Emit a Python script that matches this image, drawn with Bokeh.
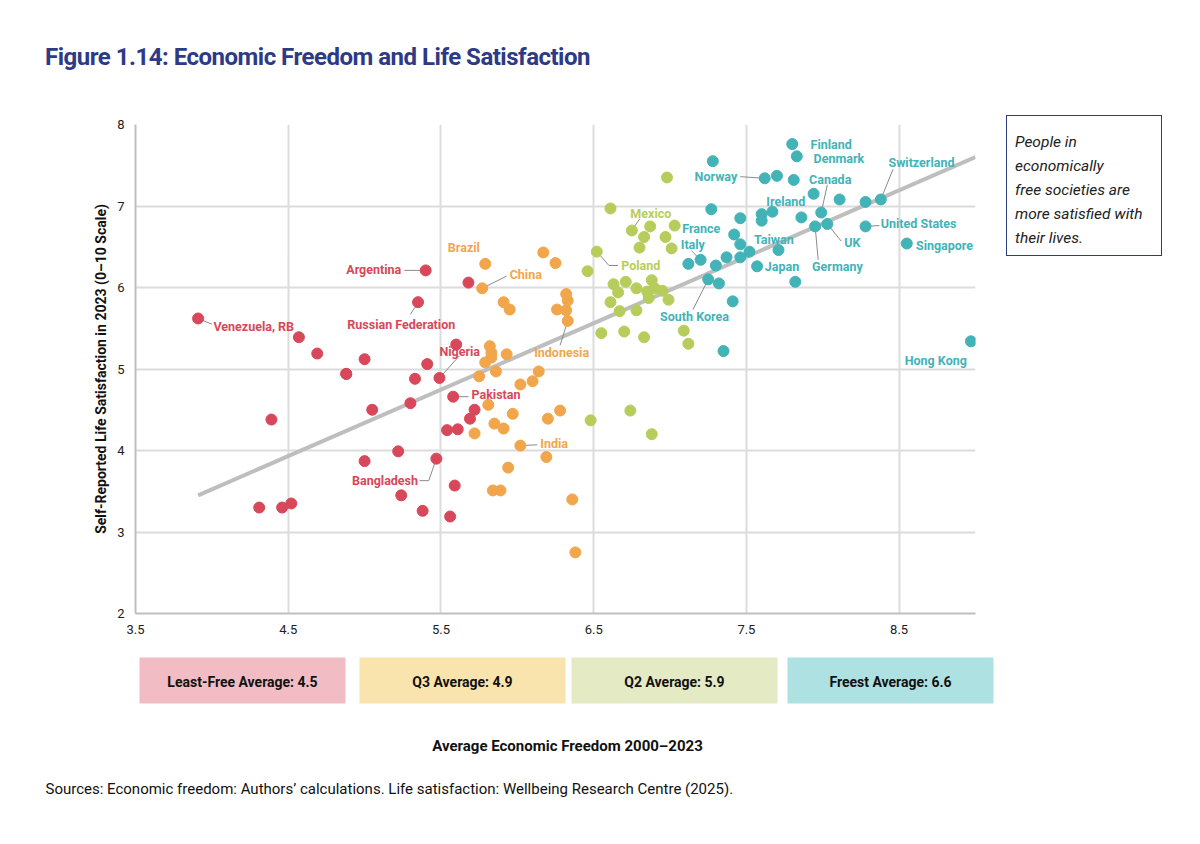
from bokeh.plotting import figure
from bokeh.models import Range1d, Div, ColumnDataSource, FixedTicker
from bokeh.layouts import column, row
from bokeh.embed import file_html
from bokeh.resources import INLINE
from bokeh.core.properties import value

RED, ORANGE, GREEN, TEAL = "#D8475A", "#F2A64B", "#B7CD5B", "#42B3B7"

red_x = [3.91,4.57,4.69,4.88,5.00,4.88,5.41,5.33,5.49,5.60,5.58,5.30,5.05,4.39,5.54,5.61,5.22,5.00,5.47,5.59,5.24,5.38,5.56,4.31,4.46,4.52,5.40,5.35,5.68,5.72,5.69]
red_y = [5.62,5.39,5.19,4.94,5.12,4.94,5.06,4.88,4.89,5.30,4.66,4.58,4.50,4.38,4.25,4.26,3.99,3.87,3.90,3.57,3.45,3.26,3.19,3.30,3.30,3.35,6.21,5.82,6.06,4.50,4.39]
orange_x = [5.79,5.77,6.17,6.25,5.91,5.95,6.32,6.33,6.26,6.32,6.33,5.82,5.83,5.83,5.93,5.79,5.75,5.86,6.14,6.10,6.02,5.81,5.97,6.20,6.28,5.72,5.85,5.91,6.02,6.19,5.94,5.84,5.89,6.36,6.38]
orange_y = [6.29,5.99,6.43,6.30,5.82,5.73,5.92,5.84,5.73,5.72,5.59,5.28,5.20,5.14,5.18,5.08,4.91,4.97,4.97,4.85,4.81,4.56,4.45,4.39,4.49,4.21,4.33,4.27,4.06,3.92,3.79,3.51,3.51,3.40,2.75]
green_x = [6.52,6.46,6.63,6.66,6.71,6.78,6.88,6.85,6.90,6.95,6.86,6.99,6.61,6.67,6.78,6.55,6.70,6.83,7.09,7.12,6.48,6.74,6.88,6.98,6.61,6.75,6.87,7.03,6.83,6.97,6.80,7.01]
green_y = [6.44,6.20,6.04,5.94,6.07,5.99,6.09,5.95,5.99,5.96,5.87,5.85,5.82,5.71,5.72,5.44,5.46,5.39,5.47,5.31,4.37,4.49,4.20,7.35,6.97,6.70,6.75,6.76,6.62,6.62,6.49,6.48]
teal_x = [7.28,7.80,7.83,7.62,7.70,7.81,7.94,8.11,8.28,8.38,7.99,7.27,7.67,7.60,7.60,7.46,7.86,7.95,8.03,8.28,8.55,7.42,7.46,7.52,7.46,7.37,7.71,7.30,7.20,7.12,7.57,7.25,7.32,7.82,7.41,7.35,8.97]
teal_y = [7.55,7.76,7.61,7.34,7.37,7.32,7.15,7.08,7.05,7.08,6.92,6.96,6.93,6.90,6.82,6.85,6.86,6.75,6.78,6.75,6.54,6.65,6.53,6.44,6.37,6.37,6.46,6.27,6.34,6.29,6.26,6.10,6.05,6.07,5.83,5.22,5.34]

trend_x = [3.91, 9.00]
trend_y = [3.45, 7.60]

label_names = ["Venezuela, RB","Argentina","Russian Federation","Nigeria","Pakistan","Bangladesh",
               "Brazil","China","Indonesia","India",
               "Poland","Mexico",
               "France","Italy","South Korea","Norway","Finland","Denmark","Canada","Ireland",
               "Switzerland","Taiwan","UK","Japan","Germany","United States","Singapore","Hong Kong"]
label_x = [4.01,5.24,5.24,5.49,5.70,5.35,5.65,5.95,6.29,6.15,6.68,6.74,7.08,7.07,7.16,7.44,7.92,7.94,7.91,7.63,8.43,7.55,8.14,7.62,7.93,8.38,8.61,8.74]
label_y = [5.52,6.22,5.55,5.21,4.69,3.63,6.49,6.16,5.20,4.09,6.27,6.91,6.73,6.53,5.64,7.36,7.75,7.58,7.33,7.06,7.53,6.59,6.55,6.26,6.26,6.78,6.51,5.10]
label_align = ["left","right","center","left","left","right","center","left","center","left","left","left",
               "left","left","center","right","left","left","left","left","left","left","left","left","left","left","left","center"]
label_color = [RED]*6 + [ORANGE]*4 + [GREEN]*2 + [TEAL]*16

leader_xs = [[3.91,4.00],[5.26,5.40],[5.35,5.30],[5.49,5.62],[5.58,5.68],[5.36,5.42,5.47],
             [5.77,5.93],[6.33,6.28],[6.02,6.13],[6.52,6.60,6.66],[6.75,6.80],
             [7.14,7.20],[7.15,7.25],[7.46,7.62],[8.03,7.99],[8.46,8.38],[8.12,8.03],[7.97,7.95],[8.37,8.28]]
leader_ys = [[5.62,5.55],[6.21,6.21],[5.82,5.67],[4.89,5.16],[4.66,4.66],[3.63,3.63,3.90],
             [5.99,6.14],[5.59,5.29],[4.06,4.07],[6.44,6.27,6.27],[6.70,6.84],
             [6.45,6.34],[5.73,6.10],[7.36,7.34],[7.26,6.92],[7.45,7.08],[6.57,6.78],[6.34,6.75],[6.76,6.75]]

x_ticks = [3.5,4.5,5.5,6.5,7.5,8.5]
y_ticks = [2,3,4,5,6,7,8]

quad_labels = ["Least-Free Average: 4.5","Q3 Average: 4.9","Q2 Average: 5.9","Freest Average: 6.6"]
quad_colors = ["#F2BCC4","#F9E4AE","#E4EAC3","#AEE1E1"]

FONT = "Roboto"

title = Div(text="Figure 1.14: Economic Freedom and Life Satisfaction", width=1184, height=88, margin=(0,0,0,0),
            styles={"font-family":FONT,"font-weight":"bold","font-size":"24px","color":"#2D3A86",
                    "padding-top":"40px","padding-left":"45px","letter-spacing":"-0.5px","box-sizing":"border-box"})

p = figure(width=1008, height=562, x_range=Range1d(3.5,9.0), y_range=Range1d(2,8),
           output_backend="svg", toolbar_location=None, min_border_left=135, min_border_top=36,
           min_border_right=33, min_border_bottom=37)
p.frame_width = 840
p.frame_height = 489
p.outline_line_color = None
p.xaxis.ticker = FixedTicker(ticks=x_ticks)
p.yaxis.ticker = FixedTicker(ticks=y_ticks)
for ax in (p.xaxis[0], p.yaxis[0]):
    ax.axis_line_color = "#BFBFBF"
    ax.axis_line_width = 2
    ax.major_tick_line_color = None
    ax.minor_tick_line_color = None
    ax.major_label_text_font = FONT
    ax.major_label_text_font_size = "13px"
    ax.major_label_text_color = "#222222"
p.yaxis.axis_label = "Self-Reported Life Satisfaction in 2023 (0\u201310 Scale)"
p.yaxis.axis_label_text_font = FONT
p.yaxis.axis_label_text_font_style = "bold"
p.yaxis.axis_label_text_font_size = "14px"
p.yaxis.axis_label_text_color = "#111111"
p.grid.grid_line_color = "#DCDCDC"
p.grid.grid_line_width = 2

p.line(trend_x, trend_y, line_color="#BEBEBE", line_width=4)
p.multi_line(leader_xs, leader_ys, line_color="#8A8A8A", line_width=1)
for xs, ys, c in ((red_x, red_y, RED), (orange_x, orange_y, ORANGE), (green_x, green_y, GREEN), (teal_x, teal_y, TEAL)):
    p.scatter(xs, ys, size=11, fill_color=c, line_color=c)

src = ColumnDataSource(dict(x=label_x, y=label_y, t=label_names, a=label_align, c=label_color))
p.text("x", "y", text="t", text_align="a", text_color="c", text_baseline="middle", source=src,
       text_font=value(FONT), text_font_style="bold", text_font_size="12.5px")

note = Div(text="People in<br>economically<br>free societies are<br>more satisfied with<br>their lives.",
           width=156, height=141, margin=(27,0,0,-2),
           styles={"font-family":FONT,"font-style":"italic","font-size":"15.5px","line-height":"24px",
                   "color":"#222","border":"1px solid #2D3A86","padding":"14px 6px 8px 8px","box-sizing":"border-box"})

b = figure(width=1192, height=178, x_range=Range1d(0,1192), y_range=Range1d(178,0),
           output_backend="svg", toolbar_location=None, min_border=0)
b.axis.visible = False
b.grid.visible = False
b.outline_line_color = None
qx0 = [139,359,571,787]
qx1 = [345,565,777,993]
b.quad(left=qx0, right=qx1, top=[7]*4, bottom=[53]*4, fill_color=quad_colors, line_color=None)
b.text([(a+c)/2 for a, c in zip(qx0, qx1)], [31]*4, text=quad_labels, text_align="center", text_baseline="middle",
       text_font=value(FONT), text_font_style="bold", text_font_size="14px", text_color="#111111")
b.text([567], [95], text=["Average Economic Freedom 2000\u20132023"], text_align="center", text_baseline="middle",
       text_font=value(FONT), text_font_style="bold", text_font_size="15px", text_color="#111111")
b.text([45], [138], text=["Sources: Economic freedom: Authors\u2019 calculations. Life satisfaction: Wellbeing Research Centre (2025)."],
       text_align="left", text_baseline="middle", text_font=value(FONT), text_font_size="15px", text_color="#111111")

layout = column(title, row(p, note, spacing=0), b, spacing=0)
open("out.html", "w").write(file_html(layout, INLINE))
